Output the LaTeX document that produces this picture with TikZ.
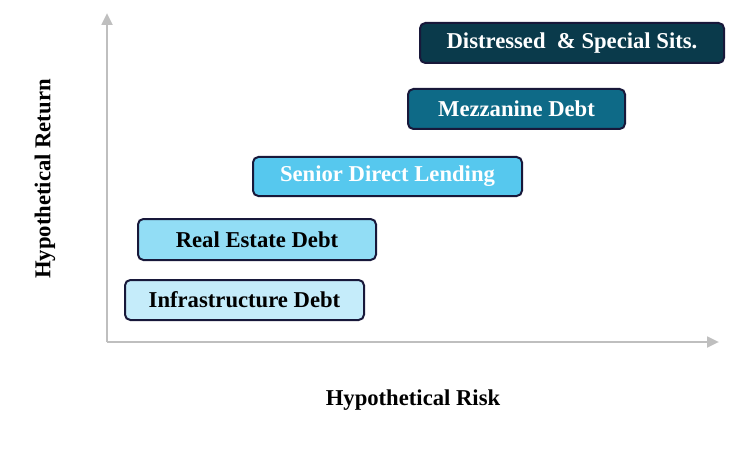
\documentclass[tikz,border=0pt]{standalone}
\usepackage{fontspec}
\setmainfont{Liberation Serif}
\usepackage{xcolor}
\definecolor{axisGray}{RGB}{191,191,191}
\definecolor{boxEdge}{RGB}{24,24,58}
\definecolor{infraBlue}{RGB}{197,236,250}
\definecolor{reBlue}{RGB}{146,221,245}
\definecolor{seniorBlue}{RGB}{86,200,238}
\definecolor{mezzBlue}{RGB}{14,106,135}
\definecolor{distBlue}{RGB}{10,58,75}
\usetikzlibrary{arrows.meta}
\tikzset{
  cbox/.style={rectangle,draw=boxEdge,line width=1.5pt,rounded corners=4pt,
    fill=#1,anchor=north west,inner sep=0pt,align=center,
    font=\fontsize{17}{20}\selectfont\bfseries},
  axis/.style={draw=axisGray,line width=2pt,-{Triangle[length=9pt,width=8pt]}},
  axlabel/.style={font=\fontsize{17}{20}\selectfont\bfseries}
}

\begin{document}
\begin{tikzpicture}[x=0.75pt,y=-0.75pt]
  \useasboundingbox (0,0) rectangle (749,449);
  % axes
  \coordinate (o) at (107,342);
  \coordinate (ytop) at (107,13);
  \coordinate (xend) at (719,342);
  \draw[axis] (o) -- (ytop);
  \draw[axis] (o) -- (xend);
  \node[axlabel] (xlab) at (413,400) {Hypothetical Risk};
  \node[axlabel, rotate=90] (ylab) at (45,179) {Hypothetical Return};
  % categories
  \node[cbox=infraBlue, text=black, minimum width=179.25pt, minimum height=30pt] (infra)
    at (124,279) {Infrastructure Debt};
  \node[cbox=reBlue, text=black, minimum width=178.5pt, minimum height=30.75pt] (re)
    at (137,218) {Real Estate Debt};
  \node[cbox=seniorBlue, text=white, minimum width=201.75pt, minimum height=29.25pt] (senior)
    at (252,156) {Senior Direct Lending};
  \node[cbox=mezzBlue, text=white, minimum width=162.75pt, minimum height=30pt] (mezz)
    at (407,88) {Mezzanine Debt};
  \node[cbox=distBlue, text=white, minimum width=228pt, minimum height=30pt] (dist)
    at (419,22) {Distressed~ \& Special Sits.};
\end{tikzpicture}
\end{document}
